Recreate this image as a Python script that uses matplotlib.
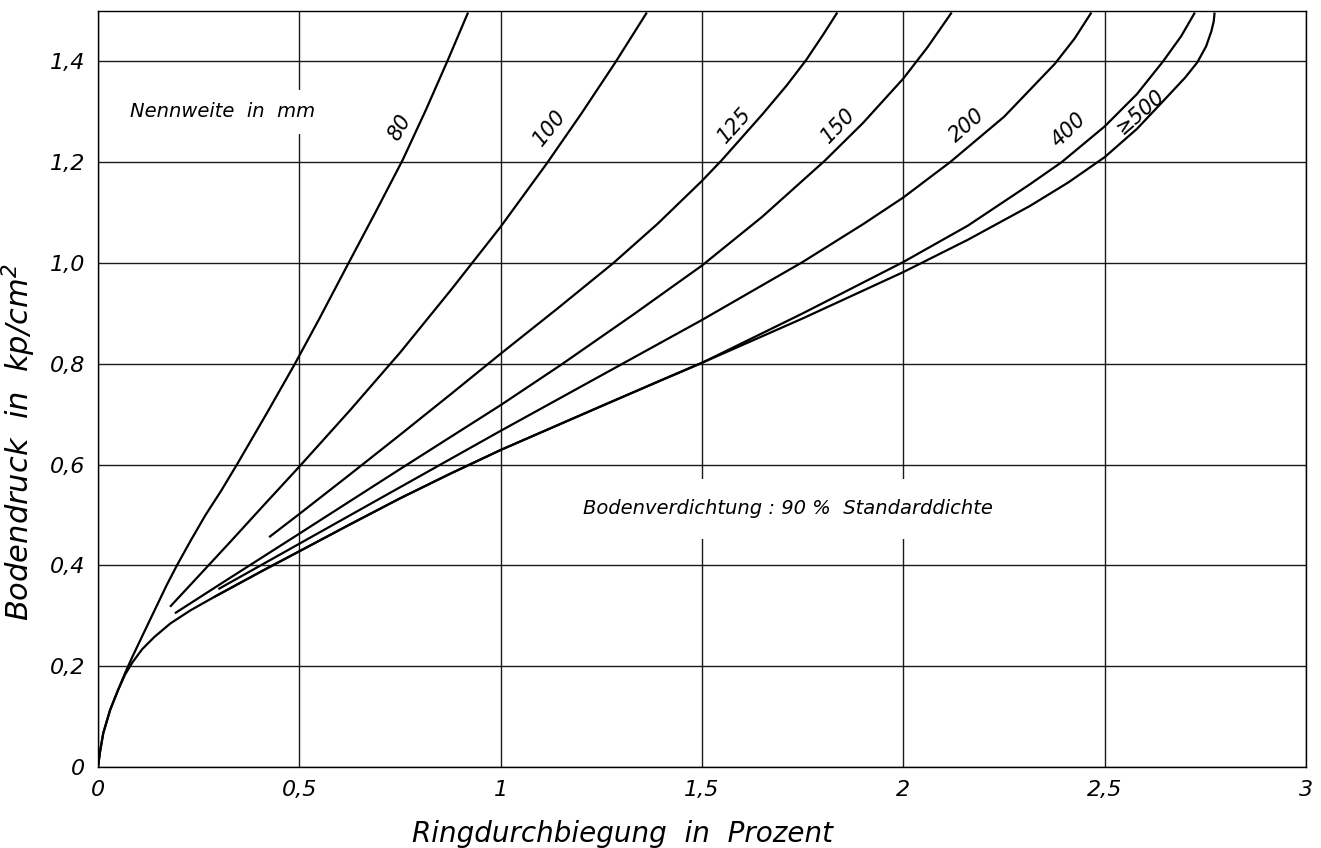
import matplotlib
matplotlib.use("Agg")
import matplotlib.pyplot as plt

# Ringdurchbiegung in % (x) vs. Bodendruck in kp/cm2 (y)
curve_80_x = [0, 0.005, 0.013, 0.03, 0.05, 0.067, 0.085, 0.11, 0.14, 0.17, 0.196, 0.23, 0.267,
              0.305, 0.345, 0.42, 0.489, 0.55, 0.621, 0.69, 0.757, 0.815, 0.869, 0.919]
curve_80_y = [0, 0.03, 0.067, 0.113, 0.153, 0.186, 0.218, 0.26, 0.31, 0.36, 0.40, 0.449, 0.50,
              0.547, 0.60, 0.703, 0.80, 0.89, 0.998, 1.102, 1.205, 1.305, 1.403, 1.497]

curve_100_x = [0.179, 0.25, 0.33, 0.41, 0.5, 0.625, 0.75, 0.875, 1.0, 1.115, 1.2, 1.284, 1.363]
curve_100_y = [0.318, 0.379, 0.448, 0.518, 0.596, 0.707, 0.822, 0.945, 1.072, 1.198, 1.296, 1.397, 1.497]

curve_125_x = [0.425, 0.5, 0.625, 0.75, 0.875, 1.0, 1.14, 1.28, 1.39, 1.5, 1.549, 1.65, 1.71,
               1.758, 1.80, 1.836]
curve_125_y = [0.456, 0.502, 0.580, 0.659, 0.739, 0.820, 0.909, 1.0, 1.078, 1.163, 1.204, 1.295,
               1.352, 1.402, 1.452, 1.497]

curve_150_x = [0.191, 0.3, 0.5, 0.75, 1.0, 1.15, 1.33, 1.5, 1.65, 1.805, 1.9, 2.0, 2.06, 2.12]
curve_150_y = [0.305, 0.361, 0.463, 0.591, 0.718, 0.798, 0.898, 0.995, 1.092, 1.203, 1.278, 1.366,
               1.428, 1.497]

curve_200_x = [0.299, 0.5, 0.75, 1.0, 1.25, 1.5, 1.75, 1.9, 2.0, 2.116, 2.25, 2.376, 2.425, 2.467]
curve_200_y = [0.353, 0.443, 0.555, 0.667, 0.777, 0.887, 1.002, 1.077, 1.130, 1.20, 1.29, 1.395,
               1.445, 1.497]

curve_400_x = [0.29, 0.35, 0.41, 0.5, 0.625, 0.75, 0.875, 1.0, 1.25, 1.4, 1.5, 1.75, 2.0, 2.16,
               2.314, 2.393, 2.5, 2.58, 2.645, 2.69, 2.724]
curve_400_y = [0.338, 0.364, 0.39, 0.428, 0.481, 0.533, 0.582, 0.629, 0.716, 0.768, 0.802, 0.90,
               1.002, 1.074, 1.156, 1.2, 1.271, 1.335, 1.4, 1.45, 1.497]

curve_500_x = [0, 0.005, 0.013, 0.03, 0.05, 0.067, 0.085, 0.11, 0.14, 0.18, 0.23, 0.29, 0.35, 0.41,
               0.5, 0.625, 0.75, 0.875, 1.0, 1.25, 1.5, 1.75, 2.0, 2.16, 2.314, 2.41, 2.5, 2.58,
               2.645, 2.70, 2.73, 2.752, 2.765, 2.771, 2.773]
curve_500_y = [0, 0.03, 0.067, 0.113, 0.153, 0.183, 0.207, 0.234, 0.258, 0.285, 0.311, 0.338, 0.364,
               0.39, 0.428, 0.481, 0.533, 0.582, 0.629, 0.716, 0.802, 0.890, 0.982, 1.046, 1.113,
               1.16, 1.21, 1.266, 1.321, 1.368, 1.398, 1.43, 1.46, 1.48, 1.497]

curve_names = ["80", "100", "125", "150", "200", "400", "\u2265500"]

x_ticks = [0, 0.5, 1, 1.5, 2, 2.5, 3]
x_tick_labels = ["0", "0,5", "1", "1,5", "2", "2,5", "3"]
y_ticks = [0, 0.2, 0.4, 0.6, 0.8, 1.0, 1.2, 1.4]
y_tick_labels = ["0", "0,2", "0,4", "0,6", "0,8", "1,0", "1,2", "1,4"]

# label placement (centre in data coords, rotation in degrees)
label_pos = [(0.750, 1.268, 60), (1.122, 1.268, 51), (1.582, 1.274, 48), (1.840, 1.272, 46),
             (2.158, 1.272, 41), (2.412, 1.264, 44), (2.588, 1.300, 41)]

plt.rcParams["font.family"] = ["DejaVu Sans"]
plt.rcParams["font.style"] = "italic"
plt.rcParams["mathtext.fontset"] = "dejavusans"
plt.rcParams["mathtext.default"] = "it"

fig = plt.figure(figsize=(13.21, 8.48), dpi=100)
ax = fig.add_axes([98 / 1321, 81 / 848, 1208 / 1321, 756 / 848])

curves = [(curve_80_x, curve_80_y), (curve_100_x, curve_100_y), (curve_125_x, curve_125_y),
          (curve_150_x, curve_150_y), (curve_200_x, curve_200_y), (curve_400_x, curve_400_y),
          (curve_500_x, curve_500_y)]
for (cx, cy) in curves:
    ax.plot(cx, cy, color="black", linewidth=1.6, solid_capstyle="butt",
            solid_joinstyle="round", zorder=3)

for name, (lx, ly, rot) in zip(curve_names, label_pos):
    ax.text(lx, ly, name, fontsize=15, rotation=rot, ha="center", va="center",
            rotation_mode="anchor", zorder=4)

ax.text(0.08, 1.30, "Nennweite  in  mm", fontsize=14, ha="left", va="center", zorder=2,
        bbox=dict(facecolor="white", edgecolor="none", pad=9))
ax.text(1.204, 0.512, "Bodenverdichtung : 90 %  Standarddichte", fontsize=14, ha="left",
        va="center", zorder=2, bbox=dict(facecolor="white", edgecolor="none", pad=15))

ax.set_xlim(0, 3)
ax.set_ylim(0, 1.5)
ax.set_xticks(x_ticks)
ax.set_xticklabels(x_tick_labels, fontsize=16)
ax.set_yticks(y_ticks)
ax.set_yticklabels(y_tick_labels, fontsize=16)
ax.tick_params(length=0, pad=9)
ax.grid(True, color="#1a1a1a", linewidth=1.0, zorder=1)
ax.set_axisbelow(True)
for sp in ax.spines.values():
    sp.set_linewidth(1.0)

ax.set_xlabel("Ringdurchbiegung  in  Prozent", fontsize=20)
ax.xaxis.set_label_coords(0.434, -0.07)
ax.set_ylabel("Bodendruck  in  kp/cm$^{2}$", fontsize=22)
ax.yaxis.set_label_coords(-0.05, 0.43)

fig.savefig("out.png", dpi=100)
